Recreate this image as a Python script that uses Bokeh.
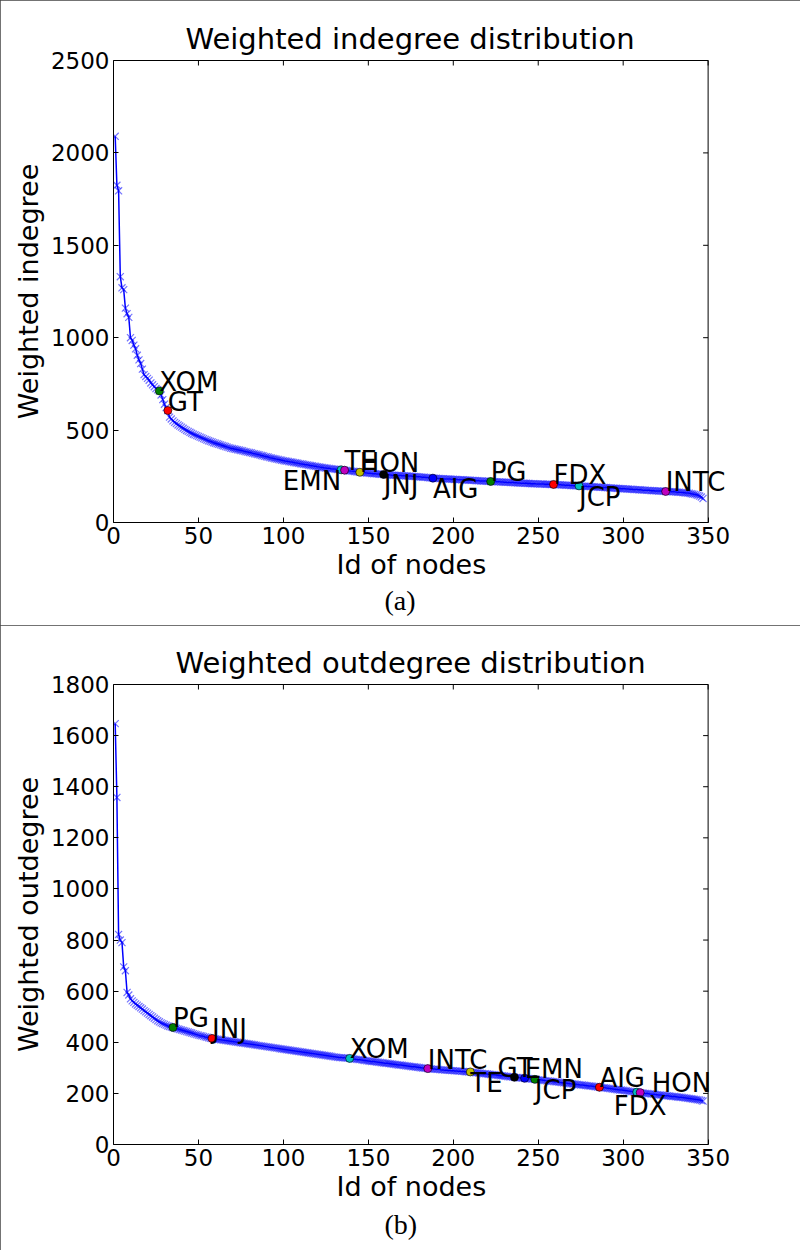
import math
from bokeh.plotting import figure
from bokeh.models import Range1d, FixedTicker, Title, ColumnDataSource, Label, LinearAxis, Span
from bokeh.layouts import column
from bokeh.embed import file_html
from bokeh.resources import INLINE

# ---------------- data ----------------
node_ids = list(range(1, 348))

in_vals = [
    2090, 1825, 1795, 1330, 1270, 1260, 1160, 1130, 1110, 1000,
    985, 960, 940, 905, 880, 860, 830, 800, 790, 780,
    770, 755, 745, 735, 725, 718, 712, 690, 665, 640,
    622, 606, 570, 560, 550, 542, 535, 528, 522, 516,
    510, 504, 498, 493, 488, 483, 478, 474, 470, 466,
    462, 458, 454, 450, 446, 442, 439, 436, 432, 429,
    426, 423, 420, 417, 414, 411, 408, 405, 402, 400,
    398, 396, 394, 392, 390, 388, 385, 383, 381, 379,
    377, 374, 372, 370, 368, 366, 363, 361, 358, 356,
    354, 351, 349, 347, 345, 343, 341, 339, 337, 335,
    333, 332, 330, 328, 327, 325, 323, 322, 320, 318,
    317, 315, 313, 312, 310, 308, 307, 305, 304, 302,
    301, 299, 298, 296, 295, 294, 293, 291, 290, 289,
    288, 287, 286, 285, 284, 283, 282, 280, 279, 278,
    277, 276, 274, 273, 272, 271, 270, 269, 268, 267,
    266, 265, 264, 264, 263, 262, 261, 261, 260, 259,
    258, 258, 257, 256, 256, 255, 255, 254, 254, 253,
    253, 252, 252, 251, 251, 250, 249, 249, 248, 247,
    246, 245, 245, 244, 243, 242, 241, 240, 239, 239,
    238, 238, 237, 237, 236, 236, 235, 235, 234, 234,
    233, 233, 232, 232, 231, 231, 230, 230, 229, 229,
    228, 228, 227, 226, 226, 225, 225, 224, 224, 223,
    223, 222, 222, 221, 221, 220, 220, 219, 219, 218,
    218, 217, 217, 216, 216, 215, 215, 214, 214, 213,
    213, 212, 212, 211, 211, 210, 210, 210, 209, 209,
    208, 208, 208, 207, 207, 207, 206, 206, 206, 205,
    205, 204, 204, 203, 203, 202, 202, 201, 200, 200,
    199, 199, 198, 198, 197, 197, 196, 196, 195, 195,
    194, 193, 193, 192, 192, 191, 190, 190, 189, 189,
    188, 187, 187, 186, 186, 185, 184, 184, 183, 183,
    182, 181, 181, 180, 180, 179, 178, 178, 177, 177,
    176, 175, 175, 174, 174, 173, 172, 172, 171, 171,
    170, 170, 169, 169, 168, 168, 167, 167, 166, 166,
    165, 164, 164, 163, 162, 161, 160, 159, 158, 156,
    154, 152, 150, 147, 143, 138, 130,
]

out_vals = [
    1647, 1358, 822, 800, 790, 695, 680, 595, 585, 570,
    562, 556, 550, 545, 540, 535, 530, 524, 519, 514,
    509, 504, 499, 494, 489, 484, 480, 476, 473, 470,
    467, 464, 462, 460, 458, 456, 454, 452, 450, 448,
    446, 444, 442, 440, 438, 436, 434, 432, 430, 428,
    426, 425, 423, 421, 420, 418, 416, 415, 414, 413,
    412, 411, 410, 409, 408, 407, 406, 405, 404, 403,
    402, 401, 400, 399, 398, 397, 396, 395, 394, 393,
    392, 391, 390, 389, 388, 387, 386, 385, 384, 383,
    382, 381, 380, 379, 378, 377, 376, 375, 374, 373,
    372, 371, 370, 369, 368, 367, 366, 365, 364, 363,
    362, 361, 360, 359, 358, 357, 356, 355, 354, 353,
    352, 351, 350, 349, 348, 347, 346, 345, 344, 343,
    342, 341, 340, 340, 339, 339, 338, 338, 337, 336,
    335, 334, 333, 332, 332, 331, 330, 329, 328, 327,
    326, 325, 325, 324, 323, 322, 321, 320, 319, 318,
    318, 317, 316, 315, 314, 313, 312, 311, 311, 310,
    309, 308, 307, 306, 305, 304, 304, 303, 302, 301,
    300, 299, 299, 298, 297, 296, 296, 295, 295, 294,
    294, 293, 292, 292, 291, 291, 290, 290, 289, 289,
    288, 288, 287, 287, 286, 286, 285, 285, 284, 284,
    283, 282, 281, 281, 280, 279, 278, 277, 277, 276,
    275, 274, 273, 273, 272, 271, 270, 269, 269, 268,
    267, 266, 265, 265, 264, 263, 262, 262, 261, 260,
    260, 259, 258, 258, 257, 256, 256, 255, 254, 253,
    253, 252, 251, 250, 249, 249, 248, 247, 246, 245,
    245, 244, 243, 242, 241, 241, 240, 239, 238, 237,
    237, 236, 235, 234, 233, 233, 232, 231, 230, 229,
    229, 228, 227, 226, 225, 224, 223, 222, 222, 221,
    220, 219, 218, 217, 216, 215, 214, 213, 213, 212,
    211, 210, 209, 208, 207, 206, 205, 205, 204, 203,
    202, 201, 200, 200, 199, 198, 197, 197, 196, 195,
    194, 194, 193, 192, 191, 191, 190, 189, 188, 188,
    187, 186, 185, 185, 184, 183, 182, 181, 180, 179,
    178, 177, 176, 175, 174, 172, 170,
]

in_names = ["XOM", "GT", "EMN", "TE", "HON", "JNJ", "AIG", "PG", "FDX", "JCP", "INTC"]
in_ids = [27, 32, 134, 136, 145, 159, 188, 222, 259, 274, 325]

out_names = ["PG", "JNJ", "XOM", "INTC", "TE", "GT", "EMN", "JCP", "AIG", "HON", "FDX"]
out_ids = [35, 58, 139, 185, 210, 236, 242, 248, 286, 308, 310]

x_ticks = [0, 50, 100, 150, 200, 250, 300, 350]
in_ticks = [0, 500, 1000, 1500, 2000, 2500]
out_ticks = [0, 200, 400, 600, 800, 1000, 1200, 1400, 1600, 1800]

# ---------------- styles ----------------
CYCLE = ["#008000", "#ff0000", "#00bfbf", "#bf00bf", "#bfbf00", "#000000",
         "#0000ff", "#008000", "#ff0000", "#00bfbf", "#bf00bf"]
ABOVE = ("left", "alphabetic", 0, 9)
BELOW = ("left", "top", 0, 4)
# label anchor per marker: (align, baseline, x_offset px, y_offset px)
in_anchor = [ABOVE, ABOVE, ("right", "top", 0, 4), ABOVE, ABOVE, BELOW,
             BELOW, ABOVE, ABOVE, BELOW, ABOVE]
out_anchor = [ABOVE, ABOVE, ABOVE, ABOVE, BELOW, ("left", "alphabetic", -17, 9),
              ABOVE, BELOW, ABOVE, ("left", "alphabetic", 15, 9),
              ("center", "top", 0, 2)]

FONT = "DejaVu Sans"
X_END = 372      # frame extends right so labels may overflow the drawn box


def make_panel(title, title_offset, ylabel, vals, ymax, yticks, names, ids,
               anchors, caption, height, border_top, border_bottom, cap_standoff):
    p = figure(width=800, height=height,
               x_range=Range1d(0, X_END), y_range=Range1d(0, ymax),
               output_backend="svg", toolbar_location=None,
               min_border_left=113, min_border_right=55,
               min_border_top=border_top, min_border_bottom=border_bottom)
    p.background_fill_color = "white"
    p.border_fill_color = "white"
    p.outline_line_color = None
    p.xgrid.grid_line_color = None
    p.ygrid.grid_line_color = None
    p.styles = {"outline": "2px solid #444", "outline-offset": "-2px"}

    p.title.text = title
    p.title.text_font = FONT
    p.title.text_font_size = "29px"
    p.title.text_font_style = "normal"
    p.title.text_color = "black"
    p.title.align = "left"
    p.title.offset = title_offset
    p.title.standoff = 10

    p.xaxis.ticker = FixedTicker(ticks=x_ticks)
    p.yaxis.ticker = FixedTicker(ticks=yticks)
    p.xaxis.bounds = (x_ticks[0], x_ticks[-1])
    p.yaxis.axis_label = ylabel

    for ax in (p.xaxis[0], p.yaxis[0]):
        ax.major_tick_in = 5
        ax.major_tick_out = 0
        ax.minor_tick_line_color = None
        ax.axis_line_color = "black"
        ax.major_tick_line_color = "black"
        ax.major_label_text_font = FONT
        ax.major_label_text_font_size = "23px"
        ax.major_label_text_color = "black"
        ax.major_label_standoff = 4
        ax.axis_label_text_font = FONT
        ax.axis_label_text_font_size = "27px"
        ax.axis_label_text_font_style = "normal"
        ax.axis_label_text_color = "black"
    p.yaxis[0].axis_label_standoff = 4

    # x axis label, centred under the drawn box (0..350)
    p.add_layout(Title(text="Id of nodes", align="left", offset=223,
                       text_font=FONT, text_font_size="27px",
                       text_font_style="normal", text_color="black",
                       standoff=1), "below")

    # top edge of the box (no ticks / labels on this axis; ticks drawn below)
    top = LinearAxis(ticker=FixedTicker(ticks=[]), bounds=(x_ticks[0], x_ticks[-1]),
                     axis_line_color="black", major_tick_line_color=None,
                     minor_tick_line_color=None)
    p.add_layout(top, "above")
    # right edge of the box
    p.add_layout(Span(location=x_ticks[-1], dimension="height",
                      line_color="black", line_width=1))

    # inward ticks on top and right edges
    tsrc = ColumnDataSource(dict(x=x_ticks, y=[ymax] * len(x_ticks)))
    p.ray("x", "y", source=tsrc, length=5, length_units="screen",
          angle=-math.pi / 2, line_color="black", line_width=1)
    rsrc = ColumnDataSource(dict(x=[x_ticks[-1]] * len(yticks), y=yticks))
    p.ray("x", "y", source=rsrc, length=5, length_units="screen",
          angle=math.pi, line_color="black", line_width=1)

    src = ColumnDataSource(dict(x=node_ids, y=vals))
    p.line("x", "y", source=src, line_color="#0000ff", line_width=1.5)
    p.scatter("x", "y", source=src, marker="x", size=10,
              line_color="#0000ff", line_alpha=0.55, line_width=1.2)

    ys = [vals[node_ids.index(i)] for i in ids]
    msrc = ColumnDataSource(dict(x=ids, y=ys, c=CYCLE[:len(ids)]))
    p.scatter("x", "y", source=msrc, marker="circle", size=8,
              fill_color="c", line_color="black", line_width=0.6)

    for (name, i, yv, (al, bl, dx, dy)) in zip(names, ids, ys, anchors):
        p.add_layout(Label(x=i, y=yv, text=name, text_align=al, text_baseline=bl,
                           x_offset=dx, y_offset=dy, text_font=FONT,
                           text_font_size="26px", text_color="black"))

    cap = Title(text=caption, align="left", offset=271,
                text_font="Liberation Serif", text_font_size="28px",
                text_font_style="normal", text_color="black",
                standoff=cap_standoff)
    p.add_layout(cap, "below")
    return p


p1 = make_panel("Weighted indegree distribution", 72, "Weighted indegree", in_vals,
                2500, in_ticks, in_names, in_ids, in_anchor, "(a)",
                625, 60, 103, 5)
p2 = make_panel("Weighted outdegree distribution", 62, "Weighted outdegree", out_vals,
                1800, out_ticks, out_names, out_ids, out_anchor, "(b)",
                625, 59, 106, 9)

layout = column(p1, p2, spacing=0)
open("out.html", "w").write(file_html(layout, INLINE))
